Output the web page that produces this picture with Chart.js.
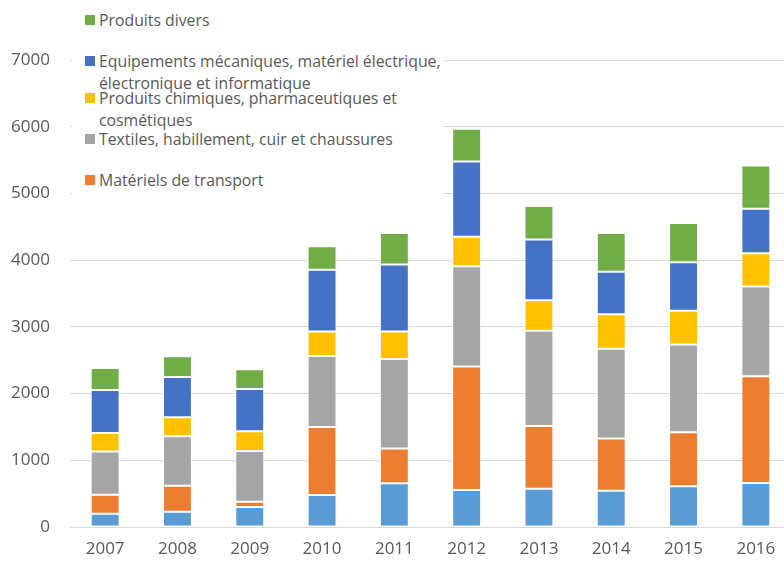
<!DOCTYPE html>
<html>
<head>
<meta charset="utf-8">
<script src="https://cdn.jsdelivr.net/npm/chart.js@4"></script>
<style>
  html, body { margin: 0; padding: 0; background: #fff; overflow: hidden; }
  #wrap { position: relative; width: 784px; height: 562px; overflow: hidden; }
  #chart { position: absolute; left: 0; top: 0; }
  #legend {
    position: absolute; left: 72px; top: 0; width: 372px; height: 200px;
    background: #fff; font-family: "Open Sans", sans-serif; font-size: 15.8px; color: #595959;
  }
  .item { position: absolute; left: 27px; line-height: 22px; white-space: nowrap; }
  .item i { position: absolute; left: -14px; top: 6px; width: 10px; height: 10px; }
</style>
</head>
<body>
<div id="wrap">
  <canvas id="chart" width="792" height="562"></canvas>
  <div id="legend"></div>
</div>
<script>
const years = ["2007", "2008", "2009", "2010", "2011", "2012", "2013", "2014", "2015", "2016"];

// bottom series has no entry in the legend
const autres = [200, 230, 300, 480, 655, 555, 575, 545, 610, 660];
const transport = [285, 390, 80, 1020, 520, 1850, 940, 780, 810, 1600];
const textiles = [645, 740, 760, 1065, 1345, 1505, 1425, 1345, 1315, 1345];
const chimiques = [280, 285, 295, 365, 410, 440, 460, 520, 505, 500];
const equipements = [645, 605, 635, 925, 1005, 1130, 910, 635, 730, 665];
const divers = [330, 310, 295, 355, 470, 490, 500, 580, 585, 650];

const yTicks = [0, 1000, 2000, 3000, 4000, 5000, 6000, 7000];

const series = [
  { label: "Autres", data: autres, color: "#5B9BD5", legend: null },
  { label: "Matériels de transport", data: transport, color: "#ED7D31", legend: 180 },
  { label: "Textiles, habillement, cuir et chaussures", data: textiles, color: "#A5A5A5", legend: 139 },
  { label: "Produits chimiques, pharmaceutiques et<br>cosmétiques", data: chimiques, color: "#FFC000", legend: 98 },
  { label: "Equipements mécaniques, matériel électrique,<br>électronique et informatique", data: equipements, color: "#4472C4", legend: 61 },
  { label: "Produits divers", data: divers, color: "#70AD47", legend: 20 }
];

const legend = document.getElementById("legend");
series.slice().reverse().forEach((s) => {
  if (s.legend === null) return;
  const el = document.createElement("div");
  el.className = "item";
  el.style.top = (s.legend - 11) + "px";
  el.innerHTML = '<i style="background:' + s.color + '"></i>' + s.label;
  legend.appendChild(el);
});

const ctx = document.getElementById("chart").getContext("2d");
new Chart(ctx, {
  type: "bar",
  data: {
    labels: years,
    datasets: series.map((s) => ({
      label: s.label.replace("<br>", " "),
      data: s.data,
      backgroundColor: s.color,
      borderColor: "rgba(255,255,255,0.35)",
      borderWidth: 1,
      borderSkipped: false,
      barPercentage: 0.4,
      categoryPercentage: 1
    }))
  },
  options: {
    responsive: false,
    animation: false,
    layout: { padding: { top: 60, left: 0, right: 0, bottom: 0 } },
    plugins: { legend: { display: false }, tooltip: { enabled: false } },
    scales: {
      x: {
        stacked: true,
        grid: { display: false, drawTicks: false },
        border: { color: "#D9D9D9" },
        ticks: { color: "#595959", font: { family: "Open Sans", size: 17 }, padding: 12, maxRotation: 0 },
        afterFit: (scale) => { scale.height = 35; }
      },
      y: {
        stacked: true,
        min: 0,
        max: 7000,
        grid: { color: "#D9D9D9", drawTicks: false },
        border: { display: false },
        afterBuildTicks: (scale) => { scale.ticks = yTicks.map((v) => ({ value: v })); },
        ticks: {
          color: "#595959", font: { family: "Open Sans", size: 17 }, padding: 19,
          callback: (v) => String(v)
        },
        afterFit: (scale) => { scale.width = 69; }
      }
    }
  }
});
</script>
</body>
</html>
